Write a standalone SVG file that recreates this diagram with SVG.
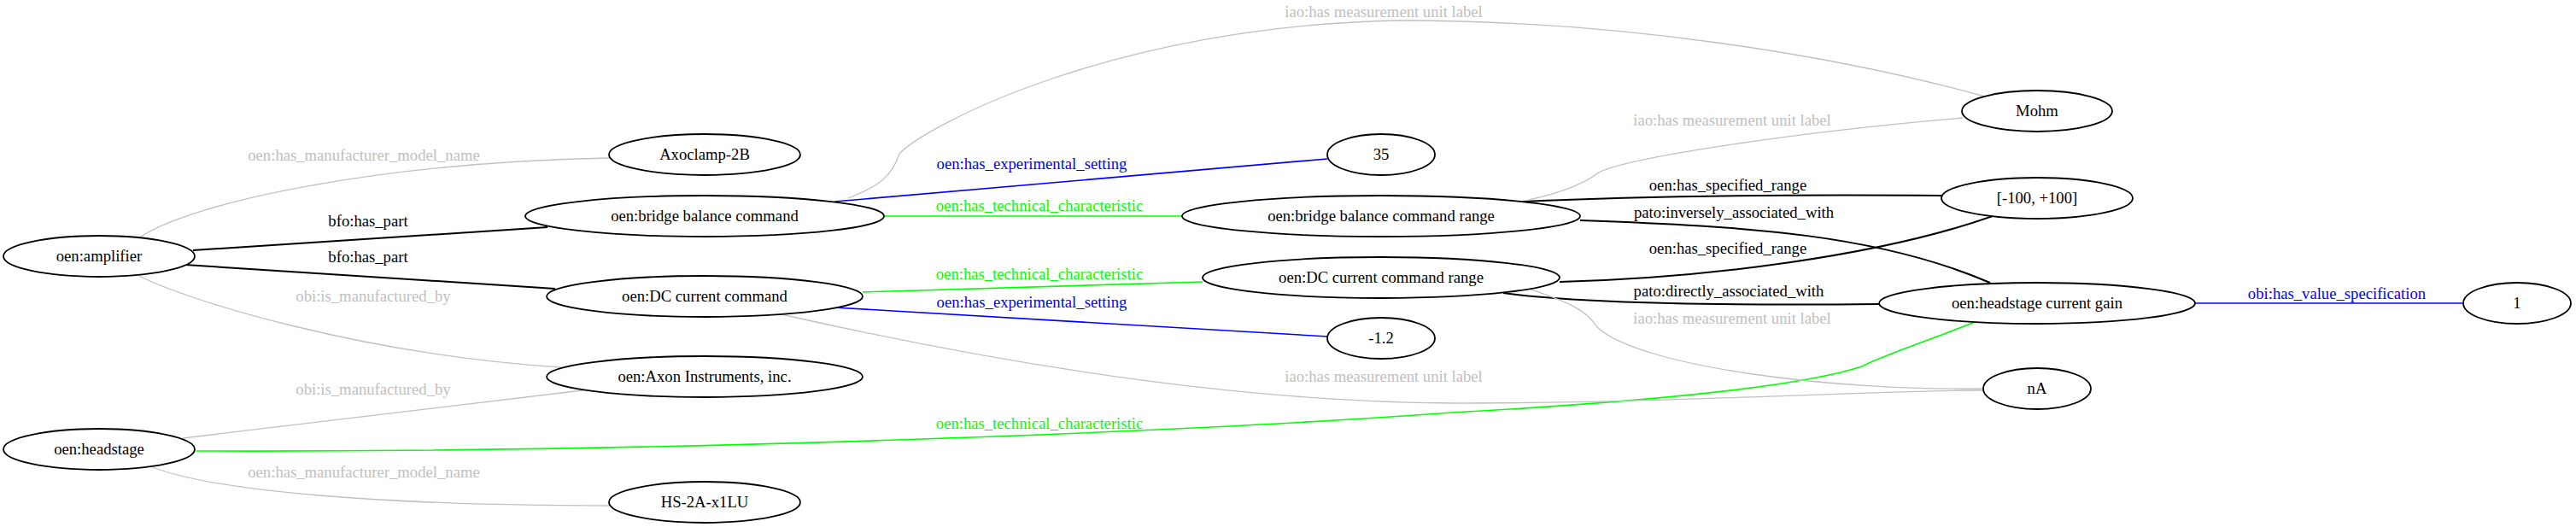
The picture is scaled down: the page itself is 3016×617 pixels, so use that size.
<svg xmlns="http://www.w3.org/2000/svg" width="3016" height="617" viewBox="0 0 3016 617">
<style>
text{font-family:"Liberation Serif","Times New Roman",serif;font-size:18.67px;text-anchor:middle}
.n ellipse{fill:#fff;stroke:#000;stroke-width:1.8}
.n text{fill:#000}
.e path{fill:none}
.k{stroke:#000;stroke-width:2}
.g{stroke:#c0c0c0;stroke-width:1.3}
.b{stroke:#0000ff;stroke-width:1.6}
.v{stroke:#00ff00;stroke-width:1.6}
.lk{fill:#000}
.lg{fill:#c0c0c0}
.lb{fill:#0000ff}
.lv{fill:#00ff00}
</style>
<rect width="3016" height="617" fill="#fff"/>
<g id="connectors" class="e">
<path class="g" d="M165,277 C230,235 450,190 713,185"/>
<text class="lg" x="426" y="188">oen:has_manufacturer_model_name</text>
<path class="k" d="M226,293 L641,266"/>
<text class="lk" x="431" y="265">bfo:has_part</text>
<path class="k" d="M217,310 L650,338"/>
<text class="lk" x="431" y="307">bfo:has_part</text>
<path class="g" d="M163,323 C215,350 420,415 657,430"/>
<text class="lg" x="437" y="353">obi:is_manufactured_by</text>
<path class="g" d="M214,513 L682,457"/>
<text class="lg" x="437" y="462">obi:is_manufactured_by</text>
<path class="g" d="M179,547 C250,575 450,592 713,592"/>
<text class="lg" x="426" y="559">oen:has_manufacturer_model_name</text>
<path class="v" d="M230,528 C800,530 1400,505 1700,483 C1900,472 2100,455 2180,429 C2200,418 2260,398 2312,377"/>
<text class="lv" x="1217" y="502">oen:has_technical_characteristic</text>
<path class="b" d="M977,236 L1554,186"/>
<text class="lb" x="1208" y="198">oen:has_experimental_setting</text>
<path class="v" d="M1035,253 L1384,253"/>
<text class="lv" x="1217" y="247">oen:has_technical_characteristic</text>
<path class="g" d="M993,232 C1030,218 1045,205 1053,180 C1080,150 1300,30 1640,24 C1900,24 2150,65 2324,113"/>
<text class="lg" x="1620" y="20">iao:has measurement unit label</text>
<path class="k" d="M1783,236 C1950,228 2150,228 2273,229"/>
<text class="lk" x="2023" y="223">oen:has_specified_range</text>
<path class="k" d="M1850,258 C2050,265 2200,275 2330,331"/>
<text class="lk" x="2030" y="255">pato:inversely_associated_with</text>
<path class="k" d="M1826,330 C2000,325 2200,300 2333,253"/>
<text class="lk" x="2023" y="297">oen:has_specified_range</text>
<path class="k" d="M1760,343 C1850,355 2000,358 2200,356"/>
<text class="lk" x="2024" y="347">pato:directly_associated_with</text>
<path class="g" d="M1790,338 C1830,352 1855,360 1870,383 C1920,430 2150,458 2323,455"/>
<text class="lg" x="2028" y="379">iao:has measurement unit label</text>
<path class="g" d="M915,368 C1100,410 1400,470 1700,472 C1950,472 2200,457 2323,457"/>
<text class="lg" x="1620" y="447">iao:has measurement unit label</text>
<path class="v" d="M1010,342 L1408,330"/>
<text class="lv" x="1217" y="327">oen:has_technical_characteristic</text>
<path class="b" d="M977,360 L1555,394"/>
<text class="lb" x="1208" y="360">oen:has_experimental_setting</text>
<path class="g" d="M1790,234 C1830,225 1855,215 1870,203 C1900,185 2100,155 2298,138"/>
<text class="lg" x="2028" y="147">iao:has measurement unit label</text>
<path class="b" d="M2570,355 L2883,355"/>
<text class="lb" x="2736" y="350">obi:has_value_specification</text>
</g>
<g id="amplifier" class="n"><ellipse cx="116" cy="300" rx="112" ry="24"/><text x="116" y="306">oen:amplifier</text></g>
<g id="headstage" class="n"><ellipse cx="116" cy="526" rx="112" ry="24"/><text x="116" y="532">oen:headstage</text></g>
<g id="axoclamp" class="n"><ellipse cx="825" cy="181" rx="112" ry="24"/><text x="825" y="187">Axoclamp-2B</text></g>
<g id="bridge_balance_command" class="n"><ellipse cx="825" cy="253" rx="210" ry="24"/><text x="825" y="259">oen:bridge balance command</text></g>
<g id="dc_current_command" class="n"><ellipse cx="825" cy="347" rx="185" ry="24"/><text x="825" y="353">oen:DC current command</text></g>
<g id="axon_instruments" class="n"><ellipse cx="825" cy="441" rx="185" ry="24"/><text x="825" y="447">oen:Axon Instruments, inc.</text></g>
<g id="hs2a" class="n"><ellipse cx="825" cy="588" rx="112" ry="24"/><text x="825" y="594">HS-2A-x1LU</text></g>
<g id="v35" class="n"><ellipse cx="1617" cy="181" rx="63" ry="24"/><text x="1617" y="187">35</text></g>
<g id="bridge_balance_command_range" class="n"><ellipse cx="1617" cy="253" rx="233" ry="24"/><text x="1617" y="259">oen:bridge balance command range</text></g>
<g id="dc_current_command_range" class="n"><ellipse cx="1617" cy="325" rx="209" ry="24"/><text x="1617" y="331">oen:DC current command range</text></g>
<g id="vneg12" class="n"><ellipse cx="1617" cy="396" rx="63" ry="24"/><text x="1617" y="402">-1.2</text></g>
<g id="mohm" class="n"><ellipse cx="2385" cy="130" rx="88" ry="24"/><text x="2385" y="136">Mohm</text></g>
<g id="range100" class="n"><ellipse cx="2385" cy="232" rx="112" ry="24"/><text x="2385" y="238">[-100, +100]</text></g>
<g id="headstage_current_gain" class="n"><ellipse cx="2385" cy="355" rx="185" ry="24"/><text x="2385" y="361">oen:headstage current gain</text></g>
<g id="na" class="n"><ellipse cx="2385" cy="455" rx="63" ry="24"/><text x="2385" y="461">nA</text></g>
<g id="v1" class="n"><ellipse cx="2947" cy="355" rx="63" ry="24"/><text x="2947" y="361">1</text></g>
</svg>
